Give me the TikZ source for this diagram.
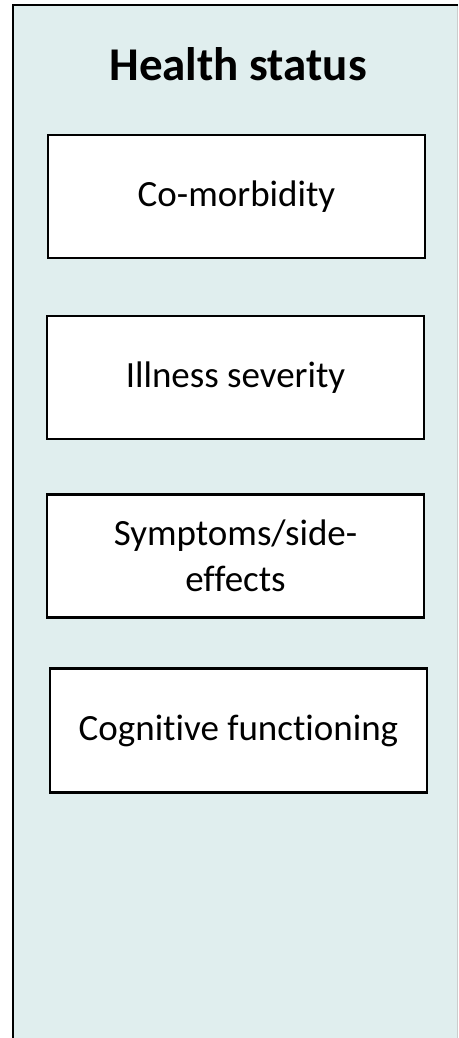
\documentclass[tikz,border=0pt]{standalone}
\usepackage{fontspec}
\setmainfont{Carlito}[Ligatures=NoCommon]
\definecolor{panelfill}{RGB}{224,238,238}
\begin{document}
\begin{tikzpicture}[x=1pt,y=-1pt,
  factor/.style={draw=black,fill=white,line width=2.4pt,inner sep=0pt,
    align=center,font=\fontsize{37}{46}\selectfont},
  heading/.style={font=\fontsize{47}{56}\selectfont\bfseries}]
  \useasboundingbox (0,0) rectangle (458,1038);
  % panel background, open at the bottom
  \fill[panelfill] (13,5) rectangle (458,1038);
  \draw[black!20,line width=1pt] (457.5,5) -- (457.5,1038);
  \draw[black,line width=2.8pt] (13,1038) -- (13,5) -- (458,5);
  % title
  \node[heading,anchor=base] (title) at (238,81) {Health status};
  % factor boxes
  \node[factor,minimum width=377pt,minimum height=123pt] (como) at (236.5,196.5) {Co-morbidity};
  \node[factor,minimum width=377pt,minimum height=123pt] (ill) at (235.5,377.5) {Illness severity};
  \node[factor,minimum width=377pt,minimum height=123pt] (sym) at (235.5,556) {Symptoms/side-\\effects};
  \node[factor,minimum width=377pt,minimum height=124pt] (cog) at (238.5,730.5) {Cognitive functioning};
\end{tikzpicture}
\end{document}
